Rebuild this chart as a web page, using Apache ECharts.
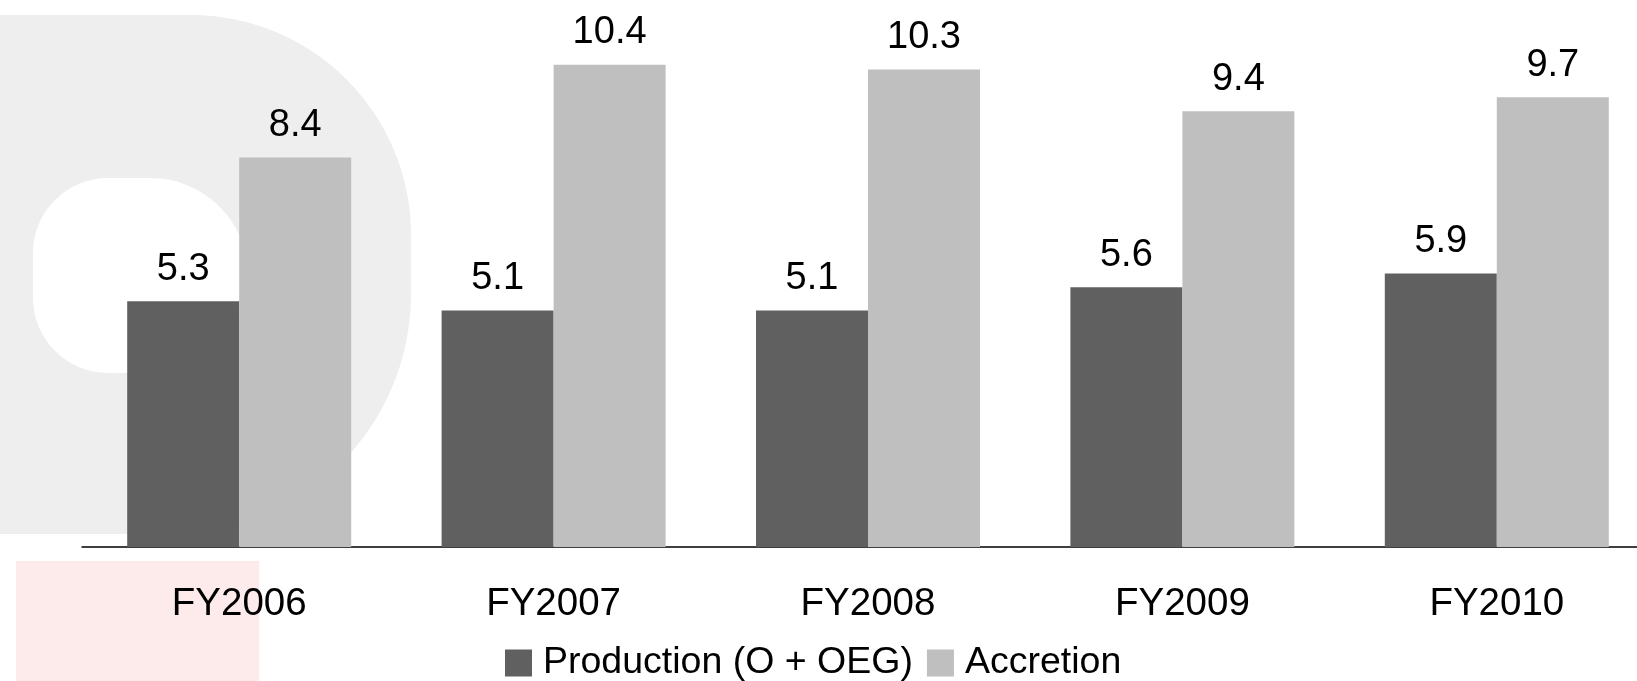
<!DOCTYPE html>
<html>
<head>
<meta charset="utf-8">
<script src="https://cdn.jsdelivr.net/npm/echarts@6/dist/echarts.min.js"></script>
<style>
  html, body { margin: 0; padding: 0; background: #fff; overflow: hidden; }
  /* the plot runs a little past the right edge of the picture */
  #main { width: 1660px; height: 681px; }
</style>
</head>
<body>
<div id="main"></div>
<script>
var categories = ['FY2006', 'FY2007', 'FY2008', 'FY2009', 'FY2010'];
var production = [5.3, 5.1, 5.1, 5.6, 5.9];
var accretion = [8.4, 10.4, 10.3, 9.4, 9.7];

var font = '"Liberation Sans", Arial, sans-serif';

var option = {
    backgroundColor: '#ffffff',
    animation: false,
    // faint logo watermark behind the plot
    graphic: [
        {
            type: 'rect', z: -10, silent: true,
            shape: {x: -80, y: 15, width: 491, height: 519, r: [60, 220, 240, 60]},
            style: {fill: '#eeeeee'}
        },
        {
            type: 'rect', z: -9, silent: true,
            shape: {x: 33, y: 178, width: 215, height: 195, r: [75, 100, 100, 75]},
            style: {fill: '#ffffff'}
        },
        {
            type: 'rect', z: -9, silent: true,
            shape: {x: 16, y: 561, width: 243, height: 130},
            style: {fill: '#fdebeb'}
        }
    ],
    legend: {
        data: ['Production (O + OEG)', 'Accretion'],
        top: 639,
        left: 500,
        icon: 'rect',
        itemWidth: 27,
        itemHeight: 27,
        itemGap: 14,
        textStyle: {fontFamily: font, fontSize: 37.5, color: '#000', padding: [0, 0, 0, 6]}
    },
    grid: {left: 82, width: 1572, top: 37, height: 510},
    xAxis: {
        type: 'category',
        data: categories,
        axisLine: {lineStyle: {color: '#000', width: 1.5}},
        axisTick: {show: false},
        axisLabel: {fontFamily: font, fontSize: 38.5, color: '#000', margin: 38}
    },
    yAxis: {
        type: 'value',
        min: 0,
        max: 11,
        show: false,
        splitLine: {show: false}
    },
    series: [
        {
            name: 'Production (O + OEG)',
            type: 'bar',
            data: production,
            barWidth: 112,
            barGap: '0%',
            itemStyle: {color: '#606060'},
            label: {show: true, position: 'top', distance: 13, fontFamily: font, fontSize: 38, color: '#000',
                formatter: function (p) { return p.value.toFixed(1); }}
        },
        {
            name: 'Accretion',
            type: 'bar',
            data: accretion,
            barWidth: 112,
            barGap: '0%',
            itemStyle: {color: '#bfbfbf'},
            label: {show: true, position: 'top', distance: 13, fontFamily: font, fontSize: 38, color: '#000',
                formatter: function (p) { return p.value.toFixed(1); }}
        }
    ]
};

echarts.init(document.getElementById('main')).setOption(option);
</script>
</body>
</html>
